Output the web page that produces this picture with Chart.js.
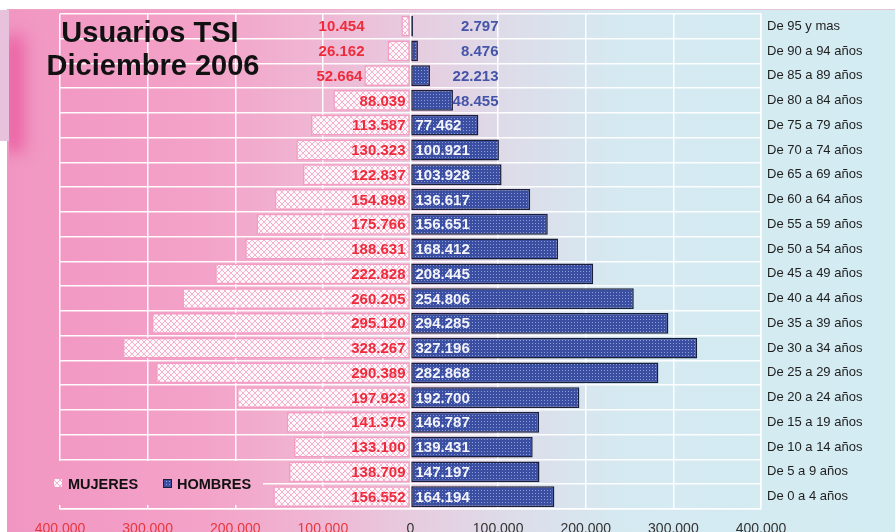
<!DOCTYPE html>
<html lang="es">
<head>
<meta charset="utf-8">
<title>Usuarios TSI Diciembre 2006</title>
<script src="https://cdn.jsdelivr.net/npm/chart.js@4.4.0/dist/chart.umd.min.js"></script>
<style>
    html, body { margin: 0; padding: 0; background: #ffffff; overflow: hidden; }
    #wrap { position: relative; width: 895px; height: 545px; }
</style>
</head>
<body>
<div id="wrap"><canvas id="pyramid"></canvas></div>
<script>
// age groups, top to bottom
const ageGroups = [
    'De 95 y mas', 'De 90 a 94 años', 'De 85 a 89 años', 'De 80 a 84 años',
    'De 75 a 79 años', 'De 70 a 74 años', 'De 65 a 69 años', 'De 60 a 64 años',
    'De 55 a 59 años', 'De 50 a 54 años', 'De 45 a 49 años', 'De 40 a 44 años',
    'De 35 a 39 años', 'De 30 a 34 años', 'De 25 a 29 años', 'De 20 a 24 años',
    'De 15 a 19 años', 'De 10 a 14 años', 'De 5 a 9 años', 'De 0 a 4 años'
];
const mujeres = [
    10454, 26162, 52664, 88039, 113587, 130323, 122837, 154898, 175766, 188631,
    222828, 260205, 295120, 328267, 290389, 197923, 141375, 133100, 138709, 156552
];
const hombres = [
    2797, 8476, 22213, 48455, 77462, 100921, 103928, 136617, 156651, 168412,
    208445, 254806, 294285, 327196, 282868, 192700, 146787, 139431, 147197, 164194
];
const xTickValues = [-400000, -300000, -200000, -100000, 0, 100000, 200000, 300000, 400000];
const titleLines = ['Usuarios TSI', 'Diciembre 2006'];
const legendNames = ['MUJERES', 'HOMBRES'];

document.addEventListener('DOMContentLoaded', function () {
    const canvas = document.getElementById('pyramid');
    const ctx = canvas.getContext('2d');

    // thousands with a dot, like the original
    function fmt(v) {
        return String(Math.abs(v)).replace(/\B(?=(\d{3})+(?!\d))/g, '.');
    }

    function makePattern(size, draw) {
        const c = document.createElement('canvas');
        c.width = size;
        c.height = size;
        draw(c.getContext('2d'));
        return ctx.createPattern(c, 'repeat');
    }

    // white/pink crosshatch for women
    const pinkHatch = makePattern(6, function (p) {
        p.fillStyle = '#fff8fb';
        p.fillRect(0, 0, 6, 6);
        p.strokeStyle = '#f5b2ce';
        p.lineWidth = 1;
        p.beginPath();
        p.moveTo(0, 0); p.lineTo(6, 6);
        p.moveTo(6, 0); p.lineTo(0, 6);
        p.stroke();
    });

    // blue with light dots for men
    const blueDots = makePattern(3, function (p) {
        p.fillStyle = '#3b4fa2';
        p.fillRect(0, 0, 3, 3);
        p.fillStyle = '#8d9bd6';
        p.fillRect(1, 1, 1, 1);
    });

    let bgGradient;
    function getBackground(c) {
        if (!bgGradient) {
            bgGradient = c.createLinearGradient(7, 0, 895, 0);
            bgGradient.addColorStop(0, '#f196c2');
            bgGradient.addColorStop(0.22, '#f3a2c8');
            bgGradient.addColorStop(0.36, '#efb8d4');
            bgGradient.addColorStop(0.465, '#e6cde0');
            bgGradient.addColorStop(0.58, '#dcdeea');
            bgGradient.addColorStop(0.69, '#d5e9f1');
            bgGradient.addColorStop(1, '#d3ecf2');
        }
        return bgGradient;
    }

    const backgroundPlugin = {
        id: 'panelBackground',
        beforeDraw(chart) {
            const c = chart.ctx;
            c.save();
            c.fillStyle = '#ffffff';
            c.fillRect(0, 0, chart.width, chart.height);
            c.fillStyle = getBackground(c);
            c.fillRect(7, 9, chart.width - 7, chart.height - 9);
            c.strokeStyle = 'rgba(240,170,200,0.6)';
            c.lineWidth = 1;
            c.beginPath();
            c.moveTo(7, 9.5);
            c.lineTo(chart.width, 9.5);
            c.stroke();

            // darker pink glow on the left edge, kept inside the panel
            c.save();
            c.beginPath();
            c.rect(9, 10, 60, 200);
            c.clip();
            c.filter = 'blur(8px)';
            c.fillStyle = '#ea62a4';
            c.fillRect(4, 36, 20, 116);
            c.filter = 'none';
            c.restore();

            // lavender strip at the far left
            c.fillStyle = '#e8c2dc';
            c.fillRect(0, 10, 9, 131);
            c.restore();
        }
    };

    const legendPlugin = {
        id: 'pyramidLegend',
        beforeDatasetsDraw(chart) {
            const c = chart.ctx;
            c.save();
            // the legend box hides the grid behind it
            c.fillStyle = getBackground(c);
            c.fillRect(55, 461, 208, 44);

            c.fillStyle = pinkHatch;
            c.fillRect(54, 479, 8, 8);
            c.fillStyle = blueDots;
            c.fillRect(163, 479, 9, 9);
            c.strokeStyle = '#1a1f3a';
            c.lineWidth = 1;
            c.strokeRect(163.5, 479.5, 8, 8);

            c.fillStyle = '#111111';
            c.font = 'bold 14.5px "Liberation Sans", Arial, sans-serif';
            c.textAlign = 'left';
            c.textBaseline = 'alphabetic';
            c.fillText(legendNames[0], 68, 489);
            c.fillText(legendNames[1], 177, 489);
            c.restore();
        }
    };

    const valueLabelPlugin = {
        id: 'valueLabels',
        afterDatasetsDraw(chart) {
            const c = chart.ctx;
            const zero = chart.scales.x.getPixelForValue(0);
            c.save();
            c.font = 'bold 15px "Liberation Sans", Arial, sans-serif';
            c.textBaseline = 'middle';

            chart.getDatasetMeta(0).data.forEach((bar, i) => {
                const txt = fmt(mujeres[i]);
                const w = c.measureText(txt).width;
                const barW = zero - bar.x;
                c.fillStyle = '#ee2b3b';
                c.textAlign = 'right';
                const xr = barW > w + 12 ? zero - 5 : Math.min(zero - 46, bar.x - 2);
                c.fillText(txt, xr, bar.y + 1);
            });

            chart.getDatasetMeta(1).data.forEach((bar, i) => {
                const txt = fmt(hombres[i]);
                const w = c.measureText(txt).width;
                const barW = bar.x - zero;
                if (barW > w + 10) {
                    c.fillStyle = '#f4f4fa';
                    c.textAlign = 'left';
                    c.fillText(txt, zero + 5, bar.y + 1);
                } else {
                    c.fillStyle = '#4454a8';
                    c.textAlign = 'right';
                    c.fillText(txt, zero + 88, bar.y + 1);
                }
            });
            c.restore();
        },
        afterDraw(chart) {
            const c = chart.ctx;
            c.save();
            c.fillStyle = '#111111';
            c.font = 'bold 29px "Liberation Sans", Arial, sans-serif';
            c.textAlign = 'center';
            c.textBaseline = 'alphabetic';
            c.fillText(titleLines[0], 150, 42);
            c.fillText(titleLines[1], 153, 75);
            c.restore();
        }
    };

    new Chart(ctx, {
        type: 'bar',
        data: {
            labels: ageGroups,
            datasets: [{
                label: legendNames[0],
                data: mujeres.map(v => -v),
                backgroundColor: pinkHatch,
                borderColor: '#f49cc2',
                borderWidth: 1.5,
                borderSkipped: false
            }, {
                label: legendNames[1],
                data: hombres,
                backgroundColor: blueDots,
                borderColor: '#1a1f3a',
                borderWidth: 1.5,
                borderSkipped: false
            }]
        },
        options: {
            indexAxis: 'y',
            responsive: true,
            maintainAspectRatio: false,
            animation: false,
            layout: {
                padding: { top: 11, left: 60, right: 0, bottom: 0 }
            },
            plugins: {
                legend: { display: false },
                tooltip: { enabled: false }
            },
            datasets: {
                bar: { categoryPercentage: 0.84, barPercentage: 1.0 }
            },
            scales: {
                x: {
                    stacked: true,
                    min: -400000,
                    max: 400000,
                    afterBuildTicks: scale => {
                        scale.ticks = xTickValues.map(v => ({ value: v }));
                    },
                    afterFit: scale => { scale.height = 36; },
                    grid: {
                        color: 'rgba(255,255,255,0.95)',
                        lineWidth: 1.5,
                        drawTicks: false
                    },
                    border: { color: 'rgba(255,255,255,0.95)', width: 1.5 },
                    ticks: {
                        padding: 12,
                        maxRotation: 0,
                        autoSkip: false,
                        font: { family: '"Liberation Sans", Arial, sans-serif', size: 14 },
                        color: c => (c.tick && c.tick.value < 0 ? '#e8383f' : '#333333'),
                        callback: v => fmt(v)
                    }
                },
                y: {
                    stacked: true,
                    position: 'right',
                    afterFit: scale => { scale.width = 134; },
                    grid: {
                        offset: true,
                        color: 'rgba(255,255,255,0.95)',
                        lineWidth: 1.5,
                        drawTicks: false
                    },
                    border: { color: 'rgba(255,255,255,0.95)', width: 1.5 },
                    ticks: {
                        padding: 6,
                        autoSkip: false,
                        font: { family: '"Liberation Sans", Arial, sans-serif', size: 13 },
                        color: '#1e1e1e'
                    }
                }
            }
        },
        plugins: [backgroundPlugin, legendPlugin, valueLabelPlugin]
    });
});
</script>
</body>
</html>
